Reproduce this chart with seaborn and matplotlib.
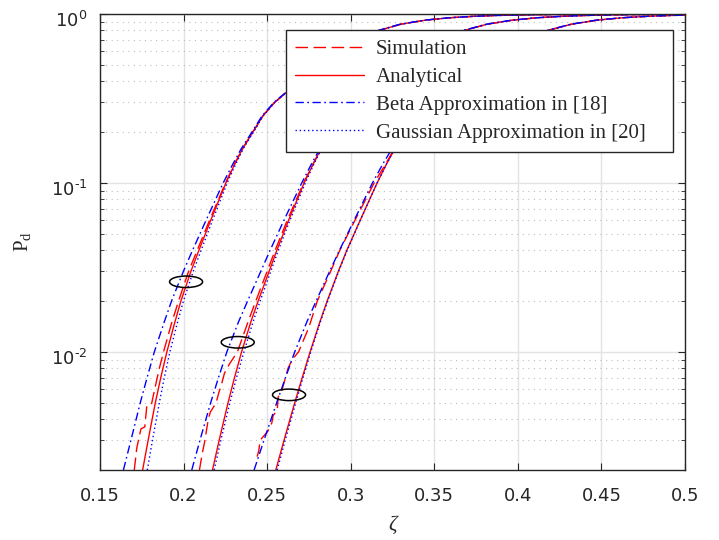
import numpy as np
import matplotlib
matplotlib.use("Agg")
import matplotlib.pyplot as plt
import matplotlib.ticker as mticker
import matplotlib.transforms as mtrans
from matplotlib.patches import Ellipse
import seaborn as sns

pd_levels = [0.002, 0.003, 0.005, 0.007, 0.01, 0.015, 0.02, 0.03, 0.04, 0.06,
             0.1, 0.13, 0.16, 0.2, 0.25, 0.3, 0.4, 0.5, 0.6, 0.7,
             0.8, 0.87, 0.92, 0.95, 0.97, 0.98, 0.99, 0.995, 0.998, 1.0]

# group 1 (left)
ana1 = [0.1755, 0.1788, 0.1831, 0.1863, 0.1900, 0.1948, 0.1984, 0.2044, 0.2092, 0.2162,
        0.2253, 0.2307, 0.2354, 0.2415, 0.2475, 0.2545, 0.2695, 0.2825, 0.2945, 0.3058,
        0.3170, 0.3300, 0.3448, 0.3590, 0.3745, 0.3868, 0.4077, 0.4287, 0.4565, 0.5000]
beta1 = [0.1640, 0.1685, 0.1741, 0.1781, 0.1825, 0.1884, 0.1928, 0.1999, 0.2054, 0.2134,
         0.2237, 0.2296, 0.2346, 0.2409, 0.2470, 0.2541, 0.2691, 0.2821, 0.2941, 0.3054,
         0.3166, 0.3296, 0.3444, 0.3586, 0.3741, 0.3864, 0.4073, 0.4283, 0.4561, 0.4996]
gauss1 = [0.1783, 0.1814, 0.1855, 0.1884, 0.1918, 0.1964, 0.1999, 0.2058, 0.2105, 0.2173,
          0.2261, 0.2313, 0.2358, 0.2418, 0.2477, 0.2546, 0.2695, 0.2825, 0.2945, 0.3058,
          0.3170, 0.3300, 0.3448, 0.3590, 0.3745, 0.3868, 0.4077, 0.4287, 0.4565, 0.5000]
sim1_zeta = [0.1705, 0.1720, 0.1745, 0.1768, 0.1780, 0.1808, 0.1830, 0.1855, 0.1880, 0.1930,
             0.1970, 0.2030, 0.2082, 0.2155, 0.2251, 0.2306, 0.2353, 0.2414, 0.2475, 0.2545,
             0.2695, 0.2825, 0.2945, 0.3058, 0.3170, 0.3300, 0.3448, 0.3590, 0.3745, 0.3868,
             0.4077, 0.4287, 0.4565, 0.5000]
sim1_pd = [0.0020, 0.0027, 0.0035, 0.0036, 0.0048, 0.0049, 0.0062, 0.0080, 0.0100, 0.0150,
           0.0200, 0.0300, 0.0400, 0.0600, 0.1000, 0.13, 0.16, 0.2, 0.25, 0.3,
           0.4, 0.5, 0.6, 0.7, 0.8, 0.87, 0.92, 0.95, 0.97, 0.98,
           0.99, 0.995, 0.998, 1.0]

# group 2 (middle)
ana2 = [0.2173, 0.2213, 0.2266, 0.2304, 0.2347, 0.2402, 0.2446, 0.2512, 0.2558, 0.2628,
        0.2721, 0.2776, 0.2824, 0.2882, 0.2948, 0.3008, 0.3175, 0.3315, 0.3440, 0.3558,
        0.3680, 0.3815, 0.3970, 0.4115, 0.4275, 0.4400, 0.4610, 0.4825, 0.5105, 0.5550]
beta2 = [0.2049, 0.2098, 0.2162, 0.2208, 0.2259, 0.2328, 0.2383, 0.2462, 0.2518, 0.2600,
         0.2707, 0.2766, 0.2816, 0.2876, 0.2943, 0.3004, 0.3171, 0.3311, 0.3436, 0.3554,
         0.3676, 0.3811, 0.3966, 0.4111, 0.4271, 0.4396, 0.4606, 0.4821, 0.5101, 0.5546]
gauss2 = [0.2183, 0.2223, 0.2277, 0.2316, 0.2361, 0.2415, 0.2458, 0.2522, 0.2567, 0.2636,
          0.2728, 0.2781, 0.2827, 0.2884, 0.2949, 0.3008, 0.3175, 0.3315, 0.3440, 0.3558,
          0.3680, 0.3815, 0.3970, 0.4115, 0.4275, 0.4400, 0.4610, 0.4825, 0.5105, 0.5550]
sim2_zeta = [0.2095, 0.2102, 0.2115, 0.2125, 0.2148, 0.2160, 0.2195, 0.2210, 0.2230, 0.2245,
             0.2275, 0.2322, 0.2385, 0.2432, 0.2500, 0.2548, 0.2620, 0.2718, 0.2776, 0.2824,
             0.2882, 0.2948, 0.3008, 0.3175, 0.3315, 0.3440, 0.3558, 0.3680, 0.3815, 0.3970,
             0.4115, 0.4275, 0.4400, 0.4610, 0.4825, 0.5105, 0.5550]
sim2_pd = [0.0020, 0.0022, 0.0026, 0.0029, 0.0040, 0.0044, 0.0050, 0.0057, 0.0066, 0.0075,
           0.0085, 0.0100, 0.0150, 0.0200, 0.0300, 0.0400, 0.0600, 0.1000, 0.13, 0.16,
           0.2, 0.25, 0.3, 0.4, 0.5, 0.6, 0.7, 0.8, 0.87, 0.92,
           0.95, 0.97, 0.98, 0.99, 0.995, 0.998, 1.0]

# group 3 (right)
ana3 = [0.2552, 0.2601, 0.2665, 0.2709, 0.2757, 0.2815, 0.2859, 0.2926, 0.2977, 0.3056,
        0.3158, 0.3215, 0.3265, 0.3325, 0.3393, 0.3456, 0.3635, 0.3785, 0.3925, 0.4053,
        0.4180, 0.4320, 0.4475, 0.4625, 0.4785, 0.4910, 0.5125, 0.5340, 0.5620, 0.6100]
beta3 = [0.2422, 0.2481, 0.2557, 0.2609, 0.2665, 0.2737, 0.2793, 0.2874, 0.2933, 0.3020,
         0.3130, 0.3193, 0.3248, 0.3313, 0.3384, 0.3449, 0.3629, 0.3780, 0.3921, 0.4049,
         0.4176, 0.4316, 0.4471, 0.4621, 0.4781, 0.4906, 0.5121, 0.5336, 0.5616, 0.6096]
gauss3 = [0.2560, 0.2608, 0.2671, 0.2714, 0.2761, 0.2818, 0.2862, 0.2928, 0.2979, 0.3057,
          0.3158, 0.3215, 0.3265, 0.3325, 0.3393, 0.3456, 0.3635, 0.3785, 0.3925, 0.4053,
          0.4180, 0.4320, 0.4475, 0.4625, 0.4785, 0.4910, 0.5125, 0.5340, 0.5620, 0.6100]
sim3_zeta = [0.2440, 0.2450, 0.2458, 0.2505, 0.2528, 0.2536, 0.2560, 0.2566, 0.2590, 0.2625,
             0.2650, 0.2688, 0.2750, 0.2800, 0.2880, 0.2935, 0.3025, 0.3140, 0.3210, 0.3262,
             0.3325, 0.3393, 0.3456, 0.3635, 0.3785, 0.3925, 0.4053, 0.4180, 0.4320, 0.4475,
             0.4625, 0.4785, 0.4910, 0.5125, 0.5340, 0.5620, 0.6100]
sim3_pd = [0.0024, 0.0026, 0.0030, 0.0034, 0.0038, 0.0042, 0.0045, 0.0054, 0.0060, 0.0080,
           0.0090, 0.0100, 0.0140, 0.0200, 0.0300, 0.0400, 0.0600, 0.1000, 0.13, 0.16,
           0.2, 0.25, 0.3, 0.4, 0.5, 0.6, 0.7, 0.8, 0.87, 0.92,
           0.95, 0.97, 0.98, 0.99, 0.995, 0.998, 1.0]

# ellipse marks (zeta, Pd)
marks = [(0.2015, 0.026), (0.2324, 0.0114), (0.2631, 0.00557)]

labels = ['Simulation', 'Analytical', 'Beta Approximation in [18]', 'Gaussian Approximation in [20]']
ytick_vals = [0.01, 0.1, 1.0]
ytick_text = ['$\\mathdefault{10^{\u2010' + '2}}$', '$\\mathdefault{10^{\u2010' + '1}}$', '$\\mathdefault{10^{0}}$']

sns.set_style('ticks', {'xtick.direction': 'in', 'ytick.direction': 'in'})
plt.rcParams['font.family'] = ['DejaVu Sans']

fig = plt.figure(figsize=(7.19, 5.40), dpi=100)
ax = fig.add_axes([100 / 719, 70 / 540, 585 / 719, 456 / 540])

red, blue = (1, 0, 0), (0, 0, 1)
sty = {
    'sim': dict(color=red, linestyle=(0, (9, 4))),
    'ana': dict(color=red, linestyle='-'),
    'beta': dict(color=blue, linestyle=(0, (6, 2.5, 1.2, 2.5))),
    'gauss': dict(color=blue, linestyle=(0, (1, 2))),
}

groups = [
    (sim1_zeta, sim1_pd, ana1, beta1, gauss1),
    (sim2_zeta, sim2_pd, ana2, beta2, gauss2),
    (sim3_zeta, sim3_pd, ana3, beta3, gauss3),
]

for gi, (sz, sp, ana, beta, gauss) in enumerate(groups):
    lab = (lambda i: labels[i]) if gi == 0 else (lambda i: None)
    sns.lineplot(x=sz, y=sp, sort=False, estimator=None, ax=ax, lw=1.0, label=lab(0), **sty['sim'])
    sns.lineplot(x=ana, y=pd_levels, sort=False, estimator=None, ax=ax, lw=1.0, label=lab(1), **sty['ana'])
    sns.lineplot(x=beta, y=pd_levels, sort=False, estimator=None, ax=ax, lw=1.0, label=lab(2), **sty['beta'])
    sns.lineplot(x=gauss, y=pd_levels, sort=False, estimator=None, ax=ax, lw=1.0, label=lab(3), **sty['gauss'])

ax.set_yscale('log')
ax.set_xlim(0.15, 0.5)
ax.set_ylim(0.002, 1.0)
ax.set_xticks(np.arange(0.15, 0.5001, 0.05))
ax.xaxis.set_major_formatter(mticker.FormatStrFormatter('%g'))
ax.set_yticks(ytick_vals)
ax.set_yticklabels(ytick_text)
ax.yaxis.set_minor_locator(mticker.LogLocator(base=10, subs=np.arange(2, 10), numticks=20))
ax.yaxis.set_minor_formatter(mticker.NullFormatter())

ax.grid(True, which='major', color='#e3e3e3', lw=1.0, linestyle='-')
ax.grid(True, which='minor', axis='y', color='#bdbdbd', lw=0.8, linestyle=(0, (1, 4)))
ax.set_axisbelow(True)

ax.tick_params(which='both', top=True, right=True, direction='in', colors='#262626',
               labelsize=13, labelcolor='#262626')
ax.tick_params(which='major', length=5, width=0.8)
ax.tick_params(which='minor', length=3, width=0.6)
ax.tick_params(axis='x', pad=12)
ax.tick_params(axis='y', pad=9)
for s in ax.spines.values():
    s.set_color('#262626')
    s.set_linewidth(1.0)

# MATLAB puts the exponent labels a little below the tick
shift = mtrans.ScaledTranslation(0, -5 / 100, fig.dpi_scale_trans)
for t in ax.get_yticklabels():
    t.set_transform(t.get_transform() + shift)

ax.set_xlabel('ζ', family='Liberation Serif', style='italic', fontsize=15, labelpad=8)
ax.set_ylabel(r'P$_\mathregular{d}$', family='Liberation Serif', fontsize=15, labelpad=12)

# ellipses drawn in axes fraction so they stay round on log axis
fig.canvas.draw()
for mx, my in marks:
    cx, cy = ax.transAxes.inverted().transform(ax.transData.transform((mx, my)))
    ax.add_patch(Ellipse((cx, cy), 33 / 585, 11.5 / 456, transform=ax.transAxes,
                         fill=False, edgecolor='black', lw=1.1, zorder=5))

leg = ax.legend(loc='upper left', bbox_to_anchor=(0.318, 0.965 - 0.263, 0.6615, 0.263),
                mode='expand', borderaxespad=0,
                fancybox=False, framealpha=1, edgecolor='#262626',
                prop={'family': 'Liberation Serif', 'size': 15},
                handlelength=3.3, handletextpad=0.55, labelspacing=0.4, borderpad=0.45)
leg.get_frame().set_linewidth(1.0)

fig.savefig('out.png', dpi=100)
